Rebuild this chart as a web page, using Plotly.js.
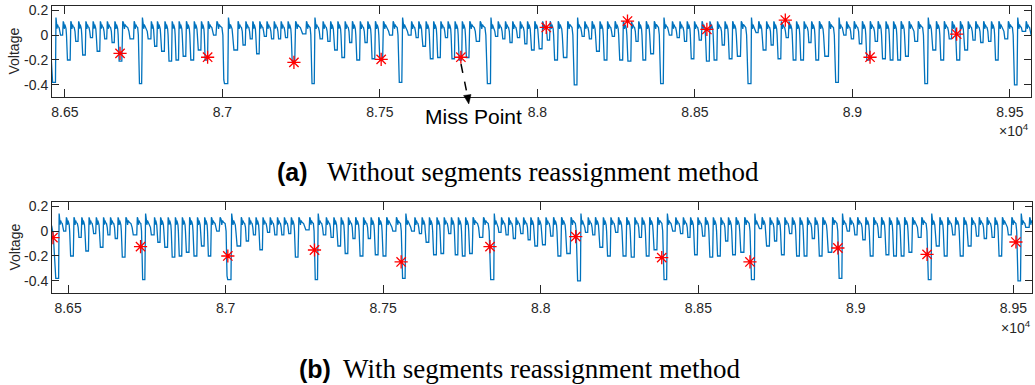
<!DOCTYPE html>
<html>
<head>
<meta charset="utf-8">
<script src="https://cdn.plot.ly/plotly-3.0.1.min.js"></script>
<style>
  html, body { margin: 0; padding: 0; background: #ffffff; }
  #chart { width: 1035px; height: 385px; }
</style>
</head>
<body>
<div id="chart"></div>
<script>
// ---------------- data ----------------
const xTickVals = [86500, 87000, 87500, 88000, 88500, 89000, 89500];
const xTickText = ['8.65', '8.7', '8.75', '8.8', '8.85', '8.9', '8.95'];
const yTickVals = [-0.4, -0.2, 0, 0.2];
const yTickText = ['-0.4', '-0.2', '0', '0.2'];

// signal before the first large dip
const leadX = [86440, 86448, 86453, 86457, 86461];
const leadY = [0.07, 0.04, -0.03, -0.2, -0.38];

// end of each dip (moment of the sharp rise) and the dip's lowest value
const dipX = [86470,
  86493, 86517, 86542, 86565, 86588, 86611, 86633, 86657, 86681, 86718, 86744,
  86773, 86792, 86816, 86839, 86861, 86884, 86909, 86932, 86953, 86980, 87017,
  87048, 87073, 87095, 87117, 87140, 87163, 87185, 87207, 87230, 87265, 87292,
  87318, 87342, 87365, 87388, 87411, 87436, 87460, 87484, 87509, 87540, 87570,
  87599, 87622, 87645, 87669, 87692, 87715, 87737, 87760, 87783, 87816, 87851,
  87874, 87897, 87920, 87944, 87967, 87990, 88015, 88039, 88064, 88094, 88126,
  88149, 88172, 88197, 88221, 88245, 88271, 88297, 88320, 88344, 88369, 88400,
  88427, 88451, 88474, 88497, 88521, 88546, 88570, 88594, 88618, 88645, 88678,
  88701, 88726, 88749, 88773, 88797, 88821, 88845, 88869, 88893, 88924, 88956,
  88980, 89004, 89030, 89055, 89080, 89105, 89129, 89153, 89178, 89207, 89239,
  89265, 89290, 89315, 89341, 89366, 89390, 89415, 89440, 89463, 89493, 89523,
  89550, 89575];
const dipY = [-0.38,
  0.0, -0.2, -0.05, -0.16, -0.02, -0.13, -0.03, -0.06, -0.21, -0.03, -0.39,
  -0.03, -0.09, -0.13, -0.21, -0.2, -0.17, -0.2, -0.12, -0.2, 0.0, -0.39,
  -0.12, -0.08, -0.03, -0.15, -0.01, -0.03, -0.03, -0.02, -0.21, 0.01, -0.39,
  -0.03, -0.05, -0.12, -0.18, -0.06, -0.2, -0.06, -0.19, -0.2, 0.0, -0.38,
  0.0, -0.02, -0.09, -0.19, -0.18, -0.02, -0.19, -0.2, -0.18, -0.05, -0.39,
  -0.01, -0.03, -0.06, -0.02, -0.07, -0.12, -0.11, -0.04, -0.2, -0.18, -0.4,
  -0.01, -0.03, -0.13, -0.2, -0.01, -0.2, -0.21, -0.05, -0.2, -0.15, -0.39,
  0.0, -0.02, -0.05, -0.19, -0.04, -0.21, -0.2, -0.08, -0.19, -0.17, -0.39,
  0.02, -0.12, -0.08, -0.19, -0.02, -0.2, -0.2, -0.06, -0.2, -0.17, -0.38,
  0.0, -0.03, -0.07, -0.2, -0.05, -0.19, -0.2, -0.2, -0.17, -0.05, -0.39,
  -0.12, -0.2, -0.03, -0.2, -0.12, -0.04, -0.06, -0.05, -0.2, -0.03, -0.4,
  0.03, 0.0];

// shape of one beat between two rises (fraction of the beat, level)
const beatShapeFrac  = [0.07, 0.15, 0.21, 0.27, 0.36];
const beatShapeLevel = [0.11, 0.095, 0.05, 0.085, 0.07];
const beatPeakAfterBigDip = 0.14;

// detected points (red asterisks)
const markAX = [86675, 86953, 87227, 87504, 87757, 88028, 88286, 88538, 88787, 89056, 89331];
const markAY = [-0.147, -0.178, -0.219, -0.195, -0.178, 0.061, 0.112, 0.045, 0.12, -0.178, 0.008];
const markBX = [86452, 86730, 87007, 87282, 87557, 87839, 88111, 88384, 88664, 88943, 89226, 89508];
const markBY = [-0.053, -0.125, -0.2, -0.152, -0.248, -0.125, -0.045, -0.213, -0.248, -0.136, -0.187, -0.088];

const captionA = ['(a)', 'Without segments reassignment method'];
const captionB = ['(b)', 'With segments reassignment method'];

// ---------------- build polyline from beat table ----------------
function buildSignal() {
  const xs = leadX.slice(), ys = leadY.slice();
  xs.push(dipX[0]); ys.push(dipY[0]);
  for (let i = 1; i < dipX.length; i++) {
    const r0 = dipX[i - 1], r1 = dipX[i], L = r1 - r0;
    const p = dipY[i - 1], d = dipY[i];
    for (let k = 0; k < beatShapeFrac.length; k++) {
      let lv = beatShapeLevel[k];
      if (k === 0 && p < -0.3) lv = beatPeakAfterBigDip;
      xs.push(r0 + beatShapeFrac[k] * L); ys.push(lv);
    }
    if (d < -0.3) {
      xs.push(r0 + 0.5 * L); ys.push(0.06);
      xs.push(r0 + 0.58 * L); ys.push(0.0);
      xs.push(r0 + 0.66 * L); ys.push(d + 0.03);
      xs.push(r0 + 0.72 * L); ys.push(d);
    } else if (d < -0.08) {
      xs.push(r0 + 0.44 * L); ys.push(0.05);
      xs.push(r0 + 0.5 * L); ys.push(0.0);
      xs.push(r0 + 0.57 * L); ys.push(d * 0.8);
      xs.push(r0 + 0.63 * L); ys.push(d);
    } else {
      xs.push(r0 + 0.5 * L); ys.push(0.06);
      xs.push(r0 + 0.6 * L); ys.push(0.03);
      xs.push(r0 + 0.7 * L); ys.push(d);
    }
    xs.push(r0 + 0.985 * L); ys.push(d);
    xs.push(r1); ys.push(d);
  }
  return {x: xs, y: ys};
}
const sig = buildSignal();

const AX = '#262626';
const tickFont = {family: 'Liberation Sans, Arial, sans-serif', size: 14, color: AX};
const lineStyle = {color: '#0072BD', width: 1.3};
const markStyle = {symbol: 'asterisk-open', size: 11, color: '#FF0000', line: {color: '#FF0000', width: 1.3}};

const traces = [
  {x: sig.x, y: sig.y, xaxis: 'x', yaxis: 'y', mode: 'lines', line: lineStyle, hoverinfo: 'skip'},
  {x: markAX, y: markAY, xaxis: 'x', yaxis: 'y', mode: 'markers', marker: markStyle},
  {x: sig.x, y: sig.y, xaxis: 'x2', yaxis: 'y2', mode: 'lines', line: lineStyle, hoverinfo: 'skip'},
  {x: markBX, y: markBY, xaxis: 'x2', yaxis: 'y2', mode: 'markers', marker: markStyle}
];

const W = 1035, H = 385;
const px = v => v / W;
const py = v => 1 - v / H;

function xAxis(range, anchor, domain) {
  return {range: range, domain: domain, anchor: anchor, tickmode: 'array', tickvals: xTickVals, ticktext: xTickText,
    ticks: 'inside', ticklen: 8, tickcolor: AX, tickwidth: 1, showline: true, linecolor: AX, linewidth: 1,
    mirror: 'ticks', showgrid: false, zeroline: false, tickfont: tickFont, ticklabelstandoff: 2};
}
function yAxis(domain, anchor) {
  return {range: [-0.497, 0.233], domain: domain, anchor: anchor, tickmode: 'array', tickvals: yTickVals, ticktext: yTickText,
    ticks: 'inside', ticklen: 7, tickcolor: AX, tickwidth: 1, showline: true, linecolor: AX, linewidth: 1,
    mirror: 'ticks', showgrid: false, zeroline: false, tickfont: tickFont};
}

const serif = {family: 'Liberation Serif, Times New Roman, serif', size: 27, color: '#000000'};
const boldSans = {family: 'Liberation Sans, Arial, sans-serif', size: 25, color: '#000000', weight: 'bold'};

// arrow head of the "Miss Point" pointer (paper coordinates built from pixel positions)
const headPath = 'M ' + px(468.8) + ' ' + py(104) + ' L ' + px(463.6) + ' ' + py(95.5) +
                 ' L ' + px(471) + ' ' + py(94.5) + ' Z';

const layout = {
  width: W, height: H, margin: {l: 0, r: 0, t: 0, b: 0},
  paper_bgcolor: '#ffffff', plot_bgcolor: '#ffffff', showlegend: false,
  xaxis: xAxis([86459, 89567], 'y', [px(52), px(1031)]),
  yaxis: yAxis([py(97), py(6)], 'x'),
  xaxis2: xAxis([86449, 89559], 'y2', [px(52), px(1032)]),
  yaxis2: yAxis([py(293), py(202)], 'x2'),
  shapes: [
    {type: 'line', xref: 'paper', yref: 'paper', x0: px(461), y0: py(64), x1: px(467.5), y1: py(96),
     line: {color: '#000000', width: 1.5, dash: 'dash'}},
    {type: 'path', xref: 'paper', yref: 'paper', path: headPath, fillcolor: '#000000',
     line: {color: '#000000', width: 0.5}}
  ],
  annotations: [
    {xref: 'paper', yref: 'paper', x: px(473), y: py(116), text: 'Miss Point', showarrow: false,
     xanchor: 'center', yanchor: 'middle', font: {family: 'Liberation Sans, Arial, sans-serif', size: 21, color: '#000000'}},
    {xref: 'paper', yref: 'paper', x: px(14), y: py(51.5), text: 'Voltage', textangle: -90, showarrow: false,
     xanchor: 'center', yanchor: 'middle', font: tickFont},
    {xref: 'paper', yref: 'paper', x: px(14), y: py(247.5), text: 'Voltage', textangle: -90, showarrow: false,
     xanchor: 'center', yanchor: 'middle', font: tickFont},
    {xref: 'paper', yref: 'paper', x: px(1031), y: py(130), text: '×10<sup>4</sup>', showarrow: false,
     xanchor: 'right', yanchor: 'middle', font: tickFont},
    {xref: 'paper', yref: 'paper', x: px(1033), y: py(327), text: '×10<sup>4</sup>', showarrow: false,
     xanchor: 'right', yanchor: 'middle', font: tickFont},
    {xref: 'paper', yref: 'paper', x: px(275), y: py(172), text: captionA[0], showarrow: false,
     xanchor: 'left', yanchor: 'middle', font: boldSans},
    {xref: 'paper', yref: 'paper', x: px(543), y: py(172), text: captionA[1], showarrow: false,
     xanchor: 'center', yanchor: 'middle', font: serif},
    {xref: 'paper', yref: 'paper', x: px(297), y: py(369), text: captionB[0], showarrow: false,
     xanchor: 'left', yanchor: 'middle', font: boldSans},
    {xref: 'paper', yref: 'paper', x: px(542), y: py(369), text: captionB[1], showarrow: false,
     xanchor: 'center', yanchor: 'middle', font: serif}
  ]
};

Plotly.newPlot('chart', traces, layout, {staticPlot: true, displayModeBar: false});
</script>
</body>
</html>
